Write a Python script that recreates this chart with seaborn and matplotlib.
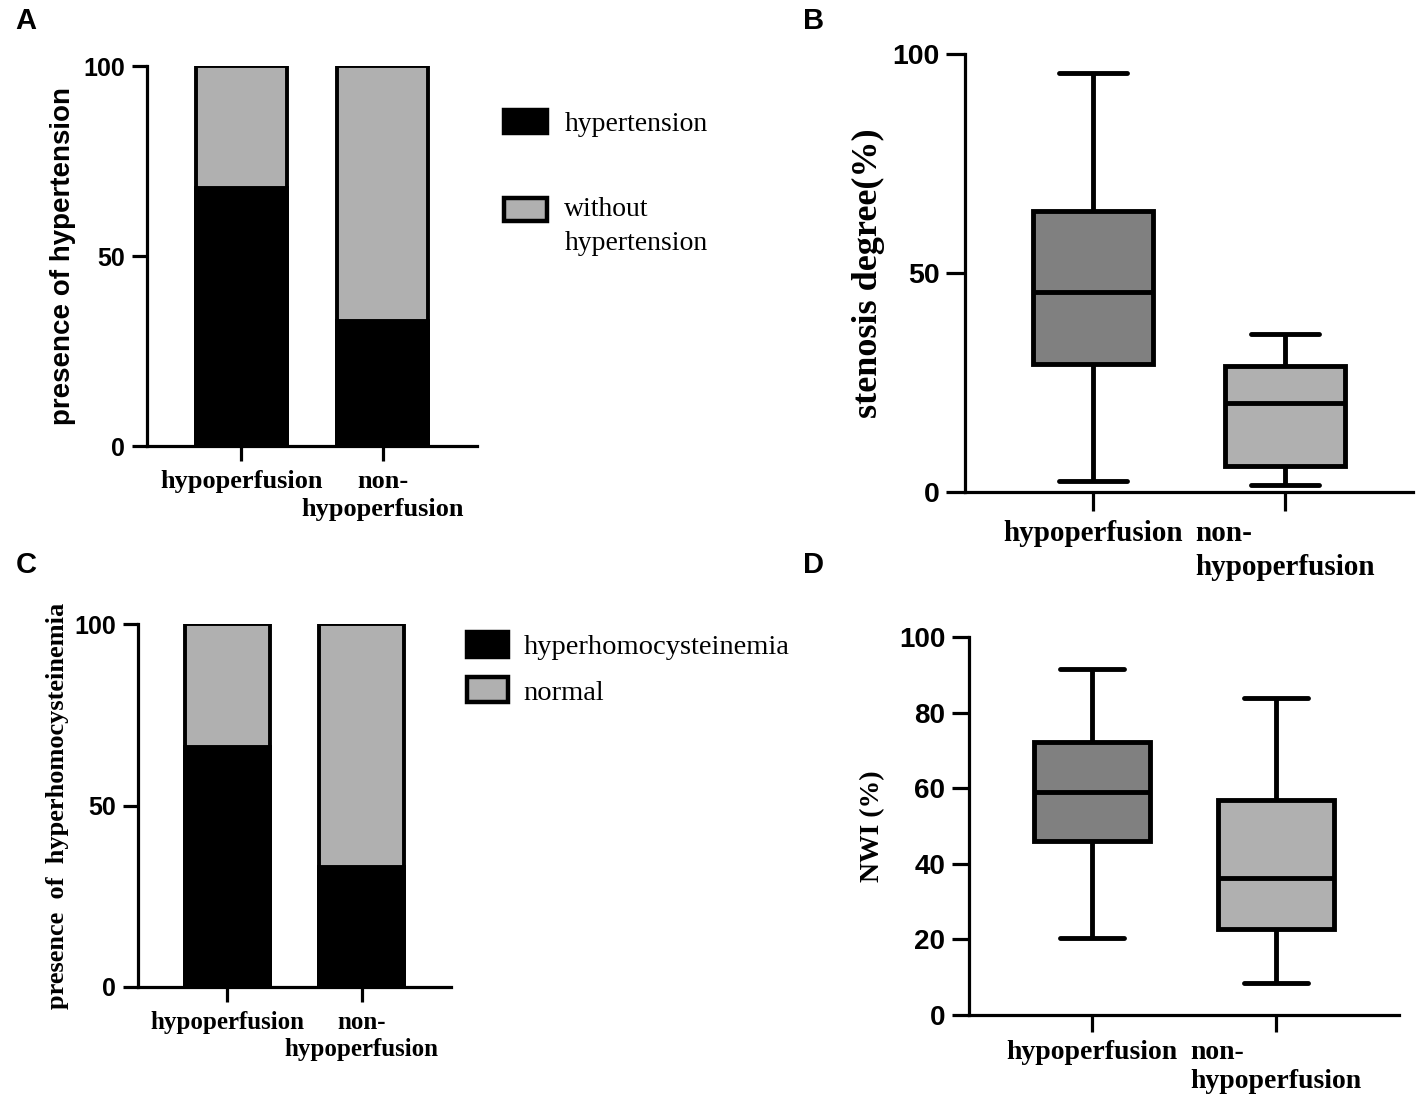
import numpy as np
import pandas as pd
import matplotlib
matplotlib.use("Agg")
import matplotlib.pyplot as plt
import seaborn as sns
from matplotlib.patches import Patch, Rectangle
from matplotlib.legend_handler import HandlerPatch

# group names (x categories)
groups = ["hypoperfusion", "non-\nhypoperfusion"]

# panel A: presence of hypertension (%)
hypertension = [68, 33]
without_hypertension = [32, 67]

# panel C: presence of hyperhomocysteinemia (%)
hyperhcy = [66, 33]
normal_hcy = [34, 67]

# panel B: stenosis degree (%) -> min, q1, median, q3, max
stenosis_hypo = [2.6, 29.3, 45.6, 64.1, 95.7]
stenosis_non = [1.5, 6.0, 20.4, 28.7, 36.0]

# panel D: NWI (%) -> min, q1, median, q3, max
nwi_hypo = [20.5, 46.0, 59.1, 72.3, 91.6]
nwi_non = [8.4, 22.8, 36.3, 56.9, 83.9]

dark_gray = "#808080"
light_gray = "#b0b0b0"
serif = "Liberation Serif"
sans = "Liberation Sans"

sns.set_style("ticks")
plt.rcParams["font.family"] = [sans, "DejaVu Sans"]
plt.rcParams.update({"text.color": "black", "axes.labelcolor": "black",
                     "axes.edgecolor": "black", "xtick.color": "black", "ytick.color": "black"})

W, H = 1418, 1101
fig = plt.figure(figsize=(W / 100, H / 100), dpi=100)


def px_axes(left, right, top, bottom):
    return fig.add_axes([left / W, 1 - bottom / H, (right - left) / W, (bottom - top) / H])


def style_axes(ax, yticks, ytick_fs, xtick_fs, ylabel, ylab_font, ylab_fs, label_x,
               malign, xspacing, xpad, ticklen):
    ax.set_ylim(0, 100)
    ax.set_xlim(-0.667, 1.667)
    ax.set_yticks(yticks)
    ax.set_yticklabels([str(t) for t in yticks], fontfamily=sans, fontweight="bold", fontsize=ytick_fs)
    ax.set_xticks([0, 1])
    ax.set_xticklabels(groups, fontfamily=serif, fontweight="bold", fontsize=xtick_fs,
                       multialignment=malign, linespacing=xspacing)
    ax.set_xlabel("")
    ax.set_ylabel(ylabel, fontfamily=ylab_font, fontweight="bold", fontsize=ylab_fs)
    ax.yaxis.set_label_coords(label_x, 0.5)
    sns.despine(ax=ax)
    for s in ["left", "bottom"]:
        ax.spines[s].set_linewidth(2.3)
    ax.tick_params(axis="both", width=2.3, length=ticklen, color="black")
    ax.tick_params(axis="y", pad=5)
    ax.tick_params(axis="x", pad=xpad)


def stacked_bars(ax, lower, upper):
    df = pd.DataFrame({"group": groups, "total": np.add(lower, upper), "lower": lower})
    sns.barplot(data=df, x="group", y="total", color=light_gray, edgecolor="black",
                linewidth=2.8, width=0.64, saturation=1, errorbar=None, ax=ax)
    sns.barplot(data=df, x="group", y="lower", color="black", edgecolor="black",
                linewidth=2.8, width=0.64, saturation=1, errorbar=None, ax=ax)


def boxes(ax, first, second):
    df = pd.DataFrame({"group": np.repeat(groups, 5), "value": first + second})
    sns.boxplot(data=df, x="group", y="value", hue="group", palette=[dark_gray, light_gray],
                whis=(0, 100), width=0.63, linewidth=3.5, linecolor="black", saturation=1,
                legend=False, ax=ax, capwidths=0.35)


def raised(shift):
    # legend handle moved up so it sits beside the first line of a two-line label
    def make(legend, orig_handle, xdescent, ydescent, width, height, fontsize):
        return Rectangle((-xdescent, -ydescent + shift), width, height)
    return HandlerPatch(patch_func=make)


# ---- A ----
axA = px_axes(147, 477, 66, 446)
stacked_bars(axA, hypertension, without_hypertension)
style_axes(axA, [0, 50, 100], 18, 19, "presence of hypertension", sans, 20, -0.215,
           "center", 1.3, 6, 11)
h1 = Patch(facecolor="black", edgecolor="black", lw=3.2, label="hypertension")
h2 = Patch(facecolor=light_gray, edgecolor="black", lw=3.2, label="without\nhypertension")
legA = fig.legend(handles=[h1, h2], loc="upper left", bbox_to_anchor=(504 / W, 1 - 110 / H),
                  frameon=False, prop={"family": serif, "size": 20}, handlelength=1.55,
                  handleheight=0.9, handletextpad=0.62, labelspacing=2.17, borderpad=0,
                  borderaxespad=0, handler_map={h2: raised(12.6)})
for t in legA.get_texts():
    t.set_linespacing(1.45)

# ---- B ----
axB = px_axes(965, 1413, 54, 492)
boxes(axB, stenosis_hypo, stenosis_non)
style_axes(axB, [0, 50, 100], 20.5, 21, "stenosis degree(%)", serif, 26, -0.178,
           "left", 1.32, 7, 13.5)

# ---- C ----
axC = px_axes(138, 451, 624, 987)
stacked_bars(axC, hyperhcy, normal_hcy)
style_axes(axC, [0, 50, 100], 18, 18, "presence  of  hyperhomocysteinemia", serif, 19, -0.22,
           "center", 1.22, 6, 11)
fig.legend(handles=[Patch(facecolor="black", edgecolor="black", lw=3.2, label="hyperhomocysteinemia"),
                    Patch(facecolor=light_gray, edgecolor="black", lw=3.2, label="normal")],
           loc="upper left", bbox_to_anchor=(467 / W, 1 - 632 / H), frameon=False,
           prop={"family": serif, "size": 20.5}, handlelength=1.45, handleheight=0.95,
           handletextpad=0.53, labelspacing=0.61, borderpad=0, borderaxespad=0)

# ---- D ----
axD = px_axes(969, 1399, 637, 1015)
boxes(axD, nwi_hypo, nwi_non)
style_axes(axD, [0, 20, 40, 60, 80, 100], 20, 20, "NWI (%)", serif, 20, -0.195,
           "left", 1.22, 6, 12)

# panel letters
for letter, x, y in [("A", 15, 7), ("B", 803, 7), ("C", 16, 551), ("D", 803, 551)]:
    fig.text(x / W, 1 - y / H, letter, fontsize=21, fontweight="bold", fontfamily=sans,
             ha="left", va="top")

fig.savefig("out.png", dpi=100)
